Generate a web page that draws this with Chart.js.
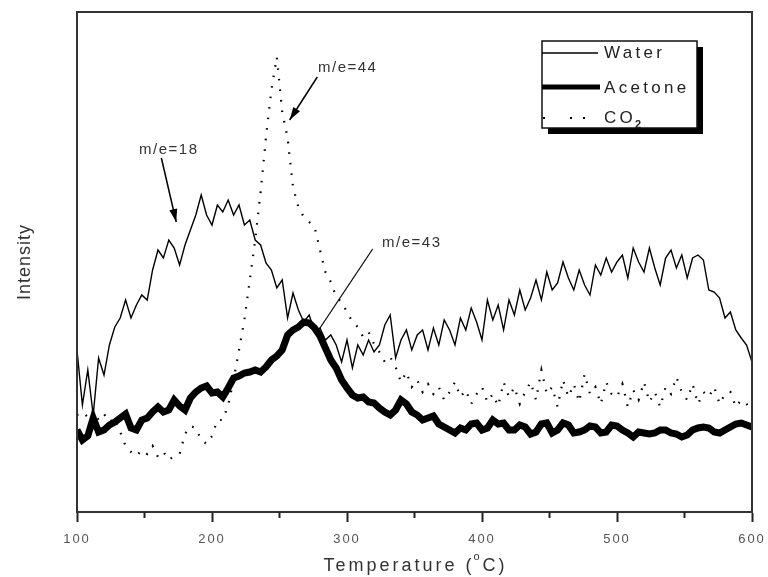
<!DOCTYPE html>
<html>
<head>
<meta charset="utf-8">
<script src="https://cdn.jsdelivr.net/npm/chart.js@4.4.0/dist/chart.umd.min.js"></script>
<style>
  html, body { margin: 0; padding: 0; background: #fff; }
  #wrap { width: 768px; height: 577px; }
</style>
</head>
<body>
<div id="wrap"><canvas id="tpd" width="768" height="577"></canvas></div>
<script>
// temperature (C) of each sample
const temperature = [
  100,104,108,112,116,120,124,128,132,136,
  140,144,148,152,156,160,164,168,172,176,
  180,184,188,192,196,200,204,208,212,216,
  220,224,228,232,236,240,244,248,252,256,
  260,264,268,272,276,280,284,288,292,296,
  300,304,308,312,316,320,324,328,332,336,
  340,344,348,352,356,360,364,368,372,376,
  380,384,388,392,396,400,404,408,412,416,
  420,424,428,432,436,440,444,448,452,456,
  460,464,468,472,476,480,484,488,492,496,
  500,504,508,512,516,520,524,528,532,536,
  540,544,548,552,556,560,564,568,572,576,
  580,584,588,592,596,600
];

// intensities, arbitrary units
const water = [
  162,107,142,97,154,137,167,185,194,212,
  194,207,217,212,242,262,254,272,264,247,
  267,282,297,317,297,287,307,300,312,297,
  307,287,292,272,267,249,242,224,232,194,
  219,202,190,197,180,184,172,177,167,150,
  172,144,167,157,172,160,167,187,197,154,
  172,182,162,177,182,162,184,167,192,182,
  167,194,182,204,190,172,212,192,207,182,
  212,197,222,202,214,232,212,240,222,229,
  250,234,222,242,227,217,247,237,254,240,
  250,257,234,264,250,240,264,244,227,254,
  262,244,257,234,254,257,252,222,220,214,
  194,200,182,174,167,150
];

const acetone = [
  82,72,76,94,80,82,87,90,94,98,
  84,82,92,94,100,105,100,102,112,106,
  102,114,120,124,126,119,120,115,124,134,
  136,139,140,142,140,145,152,156,162,177,
  182,185,190,189,184,176,164,152,144,132,
  124,117,114,115,110,109,104,100,97,102,
  112,108,100,97,92,94,96,88,85,82,
  79,84,82,88,89,82,84,92,88,89,
  82,82,87,85,78,80,88,89,79,82,
  89,87,79,80,82,86,85,79,80,87,
  86,82,79,75,80,79,78,79,82,82,
  79,78,75,77,82,84,85,84,80,79,
  82,85,88,89,87,85
];

const co2 = [
  97,100,95,102,92,98,90,94,80,66,
  60,56,62,58,66,55,60,52,56,58,
  78,86,84,72,68,76,92,92,107,132,
  162,192,232,272,320,375,422,455,400,374,
  325,305,295,290,285,262,240,230,215,210,
  200,190,185,175,180,168,160,150,155,145,
  130,140,125,132,120,128,118,125,112,120,
  130,115,122,108,118,125,110,118,106,130,
  115,125,108,120,130,112,142,118,125,105,
  132,115,128,110,138,118,125,108,130,118,
  115,128,105,122,112,130,110,120,105,125,
  118,135,120,112,128,108,120,115,125,108,
  118,120,105,112,108,100
];

const xTicks = [100, 200, 300, 400, 500, 600];
const minorTicks = [150, 250, 350, 450, 550];

const FONT = "'Liberation Sans', Arial, sans-serif";

function arrow(ctx, x1, y1, x2, y2, head) {
  ctx.beginPath();
  ctx.moveTo(x1, y1);
  ctx.lineTo(x2, y2);
  ctx.stroke();
  if (!head) return;
  const a = Math.atan2(y2 - y1, x2 - x1);
  ctx.beginPath();
  ctx.moveTo(x2, y2);
  ctx.lineTo(x2 - 13 * Math.cos(a) + 4 * Math.sin(a), y2 - 13 * Math.sin(a) - 4 * Math.cos(a));
  ctx.lineTo(x2 - 13 * Math.cos(a) - 4 * Math.sin(a), y2 - 13 * Math.sin(a) + 4 * Math.cos(a));
  ctx.closePath();
  ctx.fill();
}

const decor = {
  id: 'decor',
  beforeDraw(chart) {
    chart.ctx.letterSpacing = '2px';
  },
  afterDraw(chart) {
    const {ctx, chartArea: a, scales: {x, y}} = chart;
    ctx.save();
    ctx.strokeStyle = '#333';
    ctx.fillStyle = '#000';

    // frame
    ctx.lineWidth = 2;
    ctx.strokeRect(a.left, a.top, a.right - a.left, a.bottom - a.top);

    // minor ticks
    ctx.strokeStyle = '#222';
    minorTicks.forEach(t => {
      const px = x.getPixelForValue(t);
      ctx.beginPath();
      ctx.moveTo(px, a.bottom);
      ctx.lineTo(px, a.bottom + 6);
      ctx.stroke();
    });

    // annotations
    ctx.strokeStyle = '#000';
    ctx.lineWidth = 1.5;
    ctx.font = '15px ' + FONT;
    ctx.letterSpacing = '1.5px';
    ctx.fillStyle = '#333';
    ctx.textBaseline = 'middle';
    ctx.textAlign = 'left';
    ctx.fillText('m/e=44', x.getPixelForValue(278.5), y.getPixelForValue(444));
    ctx.fillText('m/e=18', x.getPixelForValue(146), y.getPixelForValue(362));
    ctx.fillText('m/e=43', x.getPixelForValue(326), y.getPixelForValue(269));
    ctx.fillStyle = '#000';
    arrow(ctx, x.getPixelForValue(278), y.getPixelForValue(435), x.getPixelForValue(257.5), y.getPixelForValue(392), true);
    arrow(ctx, x.getPixelForValue(162.5), y.getPixelForValue(354), x.getPixelForValue(173.5), y.getPixelForValue(290), true);
    ctx.lineWidth = 1.2;
    arrow(ctx, x.getPixelForValue(319), y.getPixelForValue(263), x.getPixelForValue(280), y.getPixelForValue(184), false);

    // legend box with shadow
    const lx = 542, ly = 41, lw = 155, lh = 87;
    ctx.fillStyle = '#000';
    ctx.fillRect(lx + 6, ly + 6, lw, lh);
    ctx.fillStyle = '#fff';
    ctx.fillRect(lx, ly, lw, lh);
    ctx.strokeStyle = '#111';
    ctx.lineWidth = 1.5;
    ctx.strokeRect(lx, ly, lw, lh);
    ctx.strokeStyle = '#000';
    ctx.lineWidth = 1.5;
    ctx.beginPath(); ctx.moveTo(lx, 53); ctx.lineTo(lx + 56, 53); ctx.stroke();
    ctx.lineWidth = 5;
    ctx.beginPath(); ctx.moveTo(lx, 87); ctx.lineTo(lx + 58, 87); ctx.stroke();
    ctx.fillStyle = '#000';
    [lx + 1, lx + 28, lx + 41].forEach(px => ctx.fillRect(px, 117, 2, 2));
    ctx.font = '17px ' + FONT;
    ctx.letterSpacing = '3.3px';
    ctx.fillStyle = '#222';
    ctx.fillText('Water', 604, 53);
    ctx.fillText('Acetone', 604, 88);
    ctx.fillText('CO', 604, 118);
    const coW = ctx.measureText('CO').width;
    ctx.font = 'bold 11px ' + FONT;
    ctx.fillText('2', 604 + coW - 1, 125);

    // axis titles
    ctx.fillStyle = '#333';
    ctx.letterSpacing = '3px';
    const t1 = 'Temperature (', t3 = 'C)';
    ctx.font = '18px ' + FONT;
    const w1 = ctx.measureText(t1).width;
    ctx.font = '11px ' + FONT;
    const w2 = ctx.measureText('o').width;
    ctx.font = '18px ' + FONT;
    const w3 = ctx.measureText(t3).width;
    let sx = 416 - (w1 + w2 + w3) / 2;
    ctx.fillText(t1, sx, 566);
    ctx.font = '11px ' + FONT;
    ctx.fillText('o', sx + w1 - 1, 557);
    ctx.font = '18px ' + FONT;
    ctx.fillText(t3, sx + w1 + w2 - 1, 566);

    ctx.translate(25, (a.top + a.bottom) / 2);
    ctx.rotate(-Math.PI / 2);
    ctx.textAlign = 'center';
    ctx.font = '18px ' + FONT;
    ctx.letterSpacing = '1px';
    ctx.fillText('Intensity', 0, 0);
    ctx.restore();
  }
};

const toPoints = ys => temperature.map((t, i) => ({x: t, y: ys[i]}));

new Chart(document.getElementById('tpd'), {
  type: 'line',
  data: {
    datasets: [
      {label: 'CO2', data: toPoints(co2), borderColor: '#000', borderWidth: 2.2,
       borderDash: [1.6, 9], pointRadius: 0, tension: 0, fill: false},
      {label: 'Acetone', data: toPoints(acetone), borderColor: '#000', borderWidth: 7,
       pointRadius: 0, tension: 0, fill: false},
      {label: 'Water', data: toPoints(water), borderColor: '#000', borderWidth: 1.4,
       pointRadius: 0, tension: 0, fill: false}
    ]
  },
  options: {
    responsive: false,
    animation: false,
    devicePixelRatio: 1,
    layout: {padding: {top: 12, right: 16, left: 0, bottom: 0}},
    plugins: {legend: {display: false}, tooltip: {enabled: false}},
    scales: {
      x: {
        type: 'linear', min: 100, max: 600,
        ticks: {
          stepSize: 50, autoSkip: false, maxRotation: 0, padding: 10, color: '#555',
          font: {family: FONT, size: 13},
          callback: v => xTicks.includes(v) ? String(v) : ''
        },
        grid: {
          drawOnChartArea: false, tickLength: 10, tickWidth: 2,
          tickColor: c => (c.tick && xTicks.includes(c.tick.value)) ? '#222' : 'rgba(0,0,0,0)'
        },
        border: {color: '#333', width: 2},
        afterFit: s => { s.height = 65; s.paddingLeft = 0; s.paddingRight = 0; }
      },
      y: {
        min: 0, max: 500,
        ticks: {display: false},
        grid: {display: false},
        border: {color: '#333', width: 2},
        afterFit: s => { s.width = 77; }
      }
    }
  },
  plugins: [decor]
});
</script>
</body>
</html>
